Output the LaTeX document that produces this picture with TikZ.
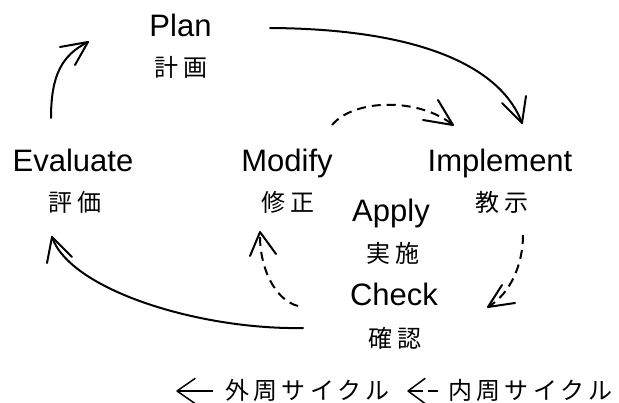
\documentclass[tikz,border=0pt]{standalone}
\usepackage{fontspec}
\setmainfont{Liberation Sans}
\newfontfamily\jpfont{Noto Sans CJK JP}[LetterSpace=18]
\begin{document}
\begin{tikzpicture}[x=1pt,y=-1pt,
  en/.style={font=\fontsize{31}{31}\selectfont, inner sep=0pt, anchor=base},
  jp/.style={font=\jpfont\fontsize{24}{24}\selectfont, inner sep=0pt},
  jpl/.style={jp, anchor=west},
  outer/.style={line width=2pt, line cap=round},
  inner/.style={line width=2pt, dash pattern=on 9pt off 6pt},
  head/.style={line width=2pt, line cap=round, line join=round},
  legend/.style={line width=1.5pt},
  leghead/.style={line width=1.5pt, line cap=round, line join=round},
]
\useasboundingbox (0,0) rectangle (619,403);

% stage labels
\node[en] (plan)   at (180.5,36.5) {Plan};
\node[jp] (planj)  at (181,67)     {計画};
\node[en] (eval)   at (73,172)     {Evaluate};
\node[jp] (evalj)  at (75,202)     {評価};
\node[en] (modify) at (287,172)    {Modify};
\node[jp] (modj)   at (288,202)    {修正};
\node[en] (impl)   at (500,172)    {Implement};
\node[jp] (implj)  at (502,202)    {教示};
\node[en] (apply)  at (391,222)    {Apply};
\node[jp] (applyj) at (393,253)    {実施};
\node[en] (check)  at (394,306)    {Check};
\node[jp] (checkj) at (395,338)    {確認};

% connector end points
\coordinate (e1) at (51,118);  \coordinate (p1) at (88,42);
\coordinate (p2) at (270,28);  \coordinate (i1) at (522,123);
\coordinate (m1) at (332,125); \coordinate (i2) at (453,125);
\coordinate (i3) at (523,235); \coordinate (c1) at (488,307);
\coordinate (c2) at (298,306); \coordinate (m2) at (260,232);
\coordinate (c3) at (303,328); \coordinate (e2) at (52,237);

% outer cycle
\draw[outer] (e1) .. controls (51,75) and (62,55) .. (p1);
\draw[head] (p1) ++(-28,5) -- (p1) -- ++(-13,23);
\draw[outer] (p2) .. controls (425,29) and (502,69) .. (i1);
\draw[head] (i1) ++(-20,-20) -- (i1) -- ++(4,-27);
\draw[outer] (c3) .. controls (200,330) and (70,290) .. (e2);
\draw[head] (e2) ++(-5,26) -- (e2) -- ++(20,20);

% inner cycle
\draw[inner] (m1) .. controls (355,98) and (420,98) .. (i2);
\draw[head] (i2) ++(-15,-25) -- (i2) -- ++(-30,-5);
\draw[inner] (i3) .. controls (523,265) and (510,294) .. (c1);
\draw[head] (c1) ++(14,-22) -- (c1) -- ++(27,-4);
\draw[inner] (c2) .. controls (275,300) and (259,268) .. (m2);
\draw[head] (m2) ++(-10,24) -- (m2) -- ++(16,22);

% legend
\coordinate (la1) at (213,391); \coordinate (la2) at (177,391);
\coordinate (lb1) at (438,391); \coordinate (lb2) at (408,391);
\draw[legend] (la1) -- (la2);
\draw[leghead] (la2) ++(18,-12.5) -- (la2) -- ++(18,12.5);
\node[jpl] (outerlbl) at (225,390) {外周サイクル};
\draw[legend, dash pattern=on 10pt off 5pt on 30pt] (lb1) -- (lb2);
\draw[leghead] (lb2) ++(17,-12.5) -- (lb2) -- ++(17,12.5);
\node[jpl] (innerlbl) at (448,390) {内周サイクル};
\end{tikzpicture}
\end{document}
